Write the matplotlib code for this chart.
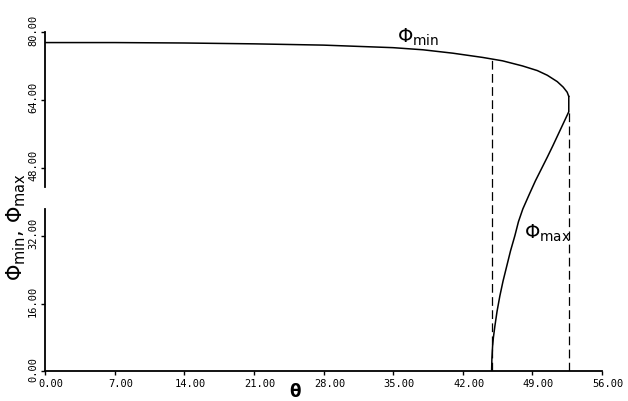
import numpy as np
import matplotlib
matplotlib.use("Agg")
import matplotlib.pyplot as plt
import matplotlib.transforms as mtransforms

# Data (theta in degrees, phi values)
theta_min = [0, 7, 14, 21, 28, 35, 38, 41, 44, 46, 48, 49.5, 50.5, 51.5, 52.1, 52.5, 52.66]
phi_min = [77.5, 77.5, 77.4, 77.2, 76.9, 76.3, 75.8, 75.0, 74.0, 73.2, 72.0, 70.9, 69.8, 68.3, 67.0, 65.8, 64.8]

theta_max = [52.66, 52.66, 52.2, 51.6, 51.06, 50.5, 49.9, 49.3, 48.7, 48.04, 47.6, 47.24, 46.8,
             46.43, 46.05, 45.73, 45.45, 45.23, 45.08, 45.0, 44.93, 44.9]
phi_max = [64.8, 61.2, 58.9, 55.9, 53.2, 50.5, 47.7, 44.9, 41.8, 38.3, 35.3, 32.0, 28.4,
           24.9, 21.3, 17.8, 14.2, 10.7, 8.0, 6.0, 3.0, 0]

# dashed guide lines: theta position and top value
guide_theta = [44.9, 52.66]
guide_top = [73.8, 61.2]

xticks = [0, 7, 14, 21, 28, 35, 42, 49, 56]
yticks = [0, 16, 32, 48, 64, 80]

fig = plt.figure(figsize=(6.28, 4.02), dpi=100)
ax = fig.add_axes([0.0717, 0.0734, 0.8869, 0.8446])

ax.plot(theta_min, phi_min, color='black', lw=1.1)
ax.plot(theta_max, phi_max, color='black', lw=1.1)
ax.vlines(guide_theta, 0, guide_top, colors='black', linestyles=(0, (7, 3.5)), lw=0.9)

ax.set_xlim(0, 56)
ax.set_ylim(0, 80)

# spines: only bottom and a broken left axis line
for s in ['top', 'right', 'left']:
    ax.spines[s].set_visible(False)
ax.spines['bottom'].set_linewidth(1.3)
ax.plot([0, 0], [0, 38.3], color='black', lw=1.3, clip_on=False)
ax.plot([0, 0], [43.5, 80], color='black', lw=1.3, clip_on=False)

ax.set_xticks(xticks)
ax.set_xticklabels(['%.2f' % v for v in xticks], family='DejaVu Sans Mono', fontsize=7.5)
ax.set_yticks(yticks)
ax.set_yticklabels(['%.2f' % v for v in yticks], family='DejaVu Sans Mono', fontsize=7.5,
                   rotation=90, va='center')
ax.tick_params(axis='both', direction='out', length=3, width=1, pad=2)

# plotter put x labels a little to the right of the ticks
shift = mtransforms.ScaledTranslation(6 / 100, 0, fig.dpi_scale_trans)
for lab in ax.get_xticklabels():
    lab.set_transform(lab.get_transform() + shift)
# and the y labels a little above
shift_y = mtransforms.ScaledTranslation(0, 3 / 100, fig.dpi_scale_trans)
for lab in ax.get_yticklabels():
    lab.set_transform(lab.get_transform() + shift_y)

ax.set_xlabel(r'$\mathbf{\theta}$', fontsize=12)
ax.xaxis.set_label_coords(0.45, -0.03)
ax.set_ylabel(r'$\Phi_{\mathrm{min}}$, $\Phi_{\mathrm{max}}$', fontsize=15)
ax.yaxis.set_label_coords(-0.03, 0.43)

ax.text(37.5, 78.9, r'$\Phi_{\mathrm{min}}$', fontsize=14, ha='center', va='center')
ax.text(50.5, 32.9, r'$\Phi_{\mathrm{max}}$', fontsize=14, ha='center', va='center')

fig.savefig('out.png', dpi=100)
